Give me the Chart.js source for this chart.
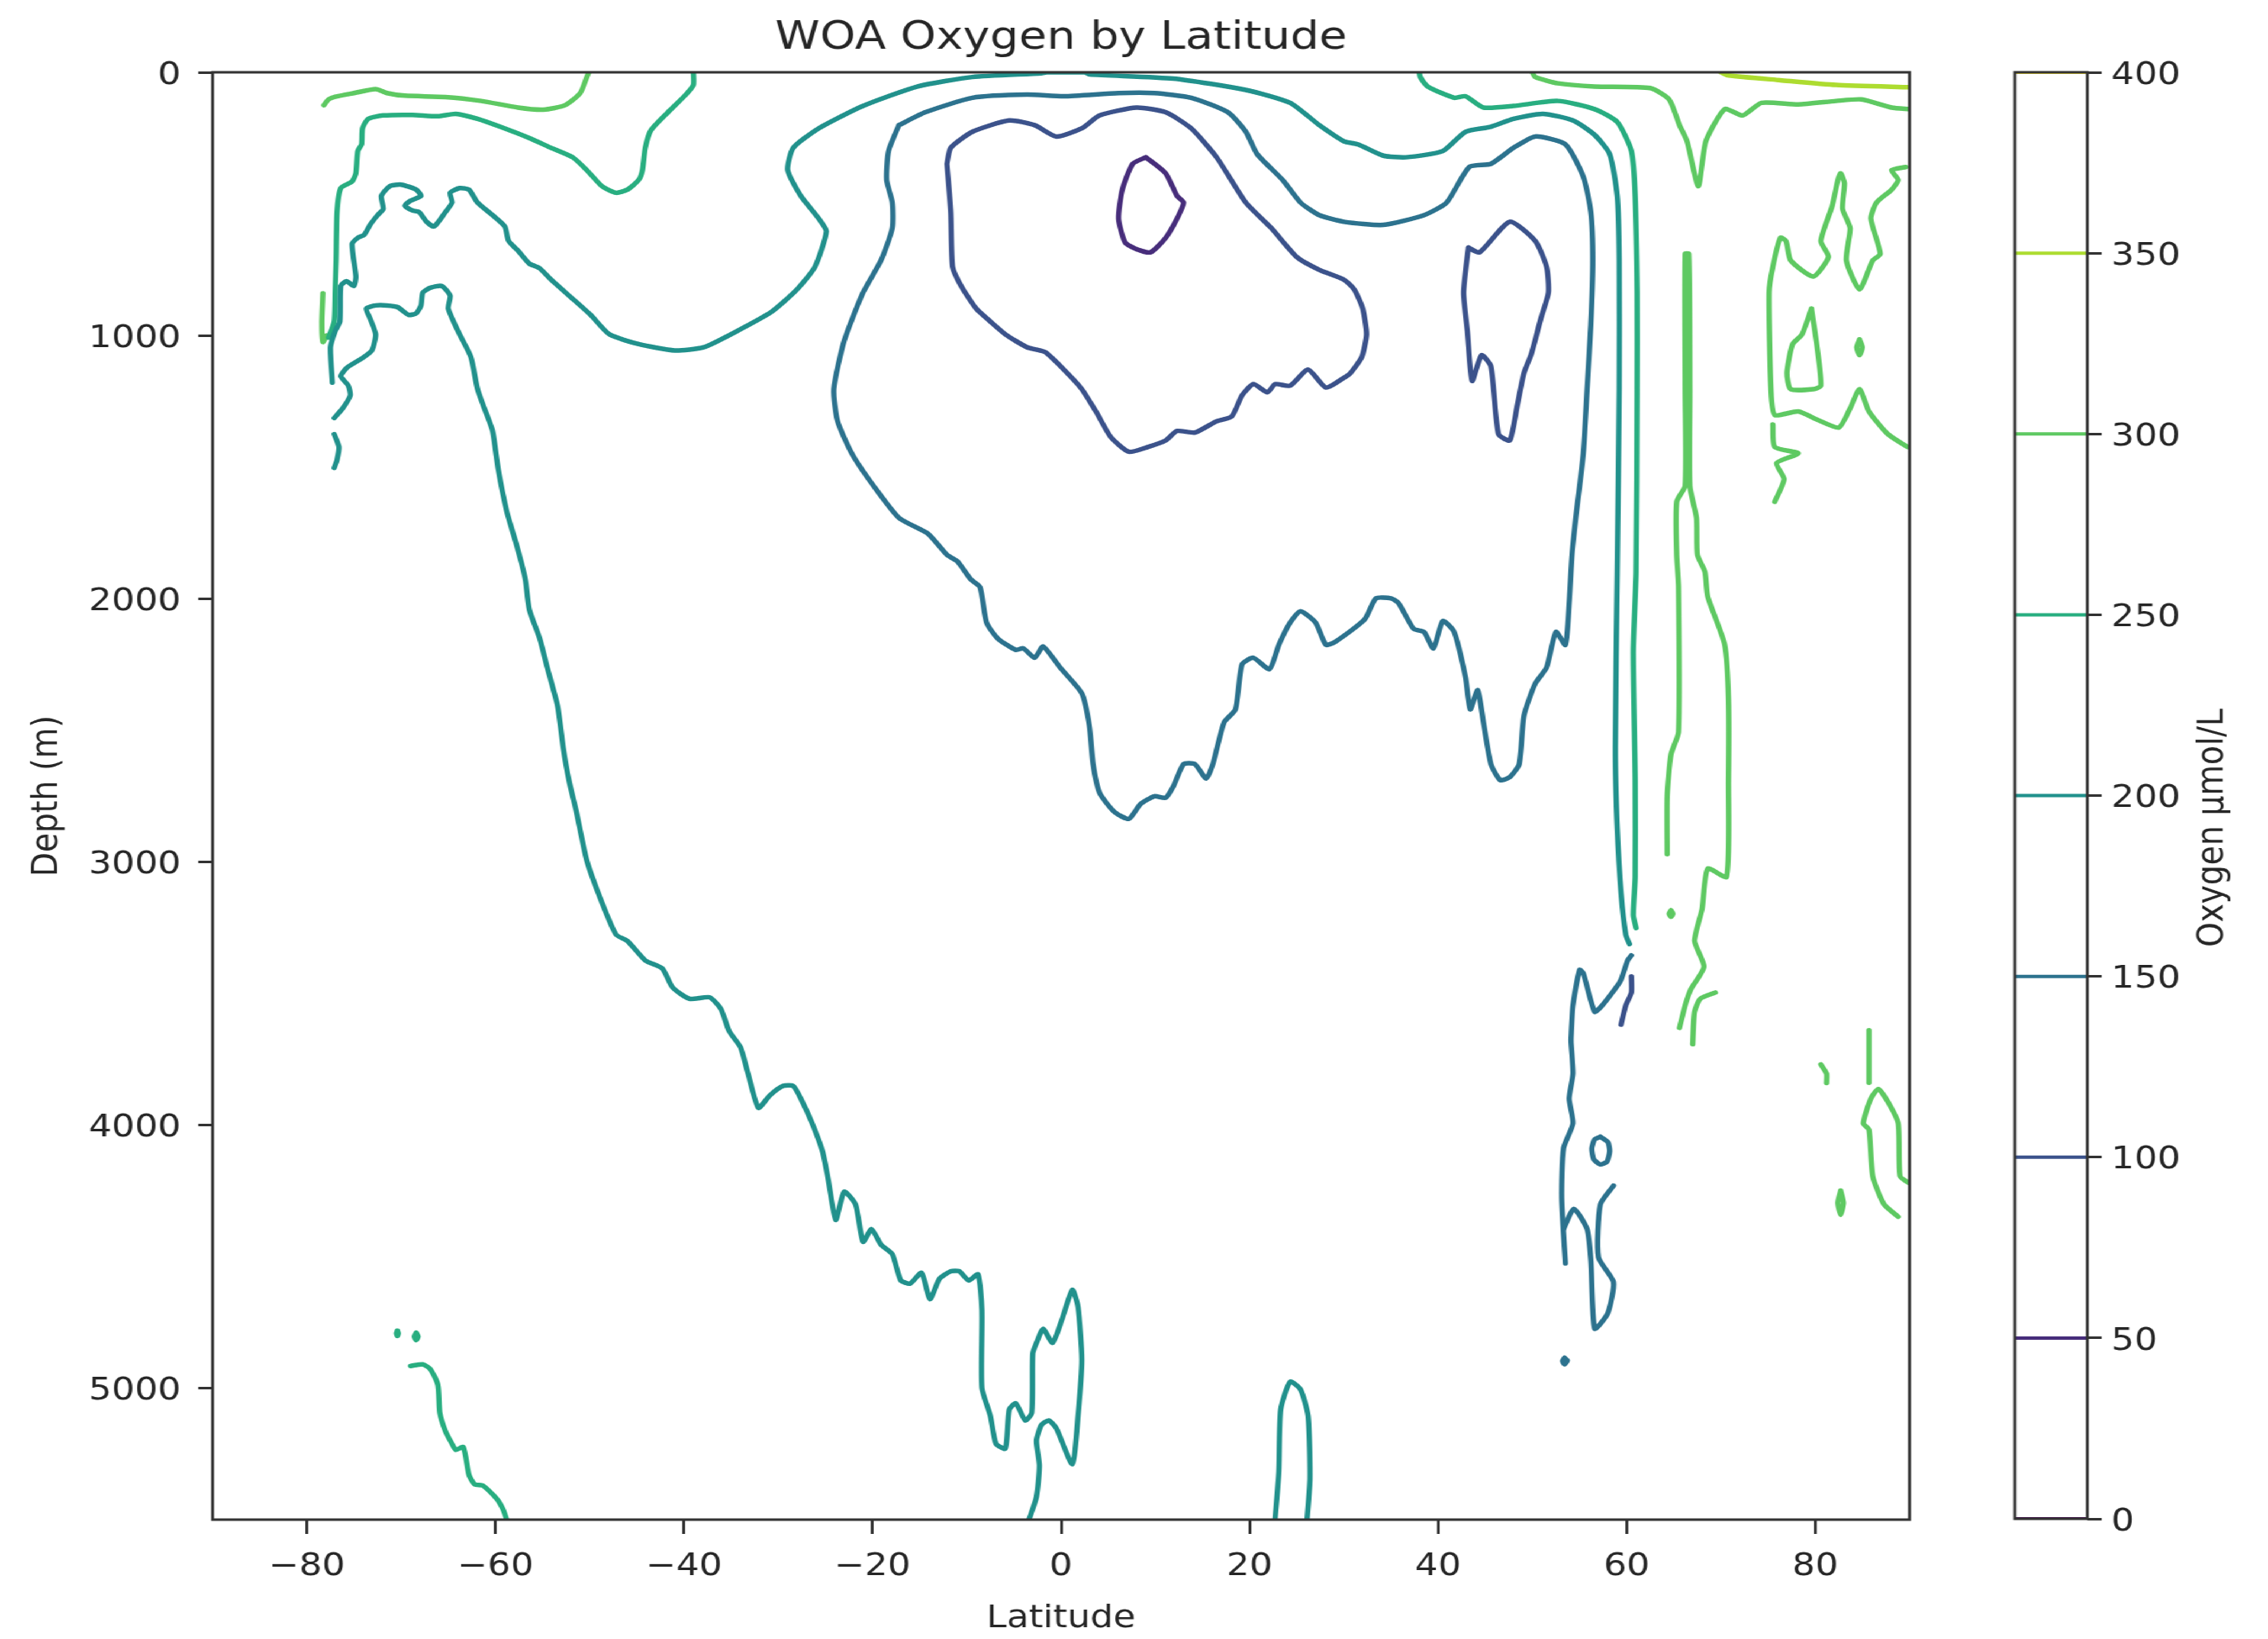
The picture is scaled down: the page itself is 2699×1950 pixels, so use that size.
<!DOCTYPE html>
<html>
<head>
<meta charset="utf-8">
<title>WOA Oxygen by Latitude</title>
<script src="https://cdn.jsdelivr.net/npm/chart.js@4.4.0/dist/chart.umd.min.js"></script>
<style>
	html, body { margin: 0; padding: 0; background: #fff; overflow: hidden; }
	#stage { position: absolute; left: 0; top: 0; width: 2347px; height: 1950px; transform: scaleX(1.15); transform-origin: 0 0; }
	#main { position: absolute; left: 0; top: 0; }
	#cbar { position: absolute; left: 2000px; top: 0; }
</style>
</head>
<body>
<div id="stage">
	<canvas id="main" width="2000" height="1950"></canvas>
	<canvas id="cbar" width="347" height="1950"></canvas>
</div>
<script>
// contour levels (umol/L) and the tick labels
const levels = [0, 50, 100, 150, 200, 250, 300, 350, 400];
const latTicks = [-80, -60, -40, -20, 0, 20, 40, 60, 80];
const depthTicks = [0, 1000, 2000, 3000, 4000, 5000];

// contour paths, [latitude, depth]
const o2_050 = [[9.0,323],[11.1,384],[12.3,470],[13.0,495],[12.3,556],[11.1,629],[9.5,684],[8.0,672],[6.8,647],[6.1,556],[6.5,446],[7.6,348],[9.0,323]];

const o2_100_core = [[-12.1,348],[-11.7,287],[-9.4,226],[-5.5,183],[-2.8,201],[-0.5,244],[2.2,213],[4.1,164],[8.0,134],[11.1,152],[13.8,213],[16.5,323],[19.6,495],[22.3,592],[25.0,702],[27.4,751],[30.0,788],[31.1,825],[32.0,898],[32.4,996],[31.9,1082],[30.7,1143],[30.0,1161],[28.1,1198],[26.2,1130],[24.3,1191],[22.7,1185],[21.9,1216],[20.4,1185],[19.2,1228],[18.1,1308],[16.5,1326],[14.2,1369],[12.3,1363],[11.1,1399],[9.2,1424],[7.2,1442],[5.3,1387],[3.7,1289],[2.2,1204],[0.3,1130],[-1.7,1063],[-3.6,1045],[-5.9,996],[-7.5,947],[-9.0,898],[-10.6,812],[-11.5,739],[-11.7,531],[-12.1,348]];
const o2_100_north = [[43.2,666],[44.4,684],[47.6,568],[50.3,641],[51.5,739],[51.7,837],[50.9,935],[49.9,1069],[49.1,1143],[48.4,1265],[47.6,1399],[46.4,1375],[45.6,1118],[44.6,1075],[43.6,1173],[43.1,984],[42.7,837],[43.2,666]];
const o2_100_deep = [[60.5,3436],[60.5,3497],[59.9,3546],[59.4,3619]];

const o2_150_main = [[-17.2,201],[-14.4,152],[-9.4,97],[-3.6,85],[0.3,91],[6.1,79],[9.9,79],[13.8,97],[17.7,152],[19.6,226],[20.8,311],[23.5,409],[25.4,495],[27.4,543],[30.0,568],[34.2,580],[38.5,543],[40.9,495],[43.3,360],[45.6,348],[48.0,287],[50.3,244],[53.5,274],[55.4,397],[56.2,531],[56.4,715],[56.2,959],[55.8,1204],[55.4,1448],[54.6,1693],[54.2,1834],[53.9,2017],[53.5,2176],[52.5,2127],[51.5,2262],[50.3,2323],[49.1,2445],[48.6,2629],[47.6,2678],[46.6,2690],[45.6,2629],[44.8,2470],[44.2,2348],[43.4,2421],[42.9,2299],[41.7,2127],[40.5,2085],[39.5,2189],[38.5,2127],[37.4,2115],[35.8,2017],[35.0,1999],[33.4,1999],[32.2,2079],[29.1,2164],[28.1,2176],[27.0,2091],[25.4,2048],[24.3,2091],[23.1,2176],[22.1,2268],[20.4,2225],[19.2,2250],[18.5,2421],[17.3,2470],[16.1,2629],[15.4,2684],[14.2,2629],[13.0,2629],[11.9,2714],[11.1,2757],[9.9,2751],[8.4,2782],[7.2,2837],[5.7,2812],[4.1,2739],[3.4,2629],[3.0,2482],[2.2,2360],[-0.1,2262],[-1.9,2182],[-2.8,2225],[-4.0,2189],[-4.8,2195],[-6.7,2152],[-7.9,2091],[-8.6,1956],[-9.6,1926],[-11.0,1858],[-12.1,1834],[-14.1,1754],[-17.2,1693],[-19.9,1571],[-22.2,1448],[-23.7,1326],[-24.1,1204],[-23.0,1020],[-21.0,837],[-19.1,715],[-17.9,592],[-17.9,495],[-18.5,409],[-18.3,299],[-17.2,201]];
const o2_150_deepA = [[60.5,3356],[60.1,3375],[59.4,3448],[59.0,3472],[57.4,3546],[56.6,3570],[55.4,3424],[55.0,3411],[54.3,3546],[54.1,3668],[54.1,3687],[54.3,3805],[53.9,3900],[54.3,3994],[53.3,4089],[53.1,4278],[53.5,4526]];
const o2_150_deepB = [[53.3,4396],[54.4,4319],[55.8,4396],[56.2,4514],[56.6,4774],[58.0,4715],[58.6,4597],[57.0,4503],[57.2,4302],[58.6,4231]];
const o2_150_ring = [[57.2,4045],[58.0,4065],[58.2,4100],[57.9,4140],[57.2,4150],[56.5,4130],[56.3,4090],[56.6,4055],[57.2,4045]];
const o2_150_dot = [[53.4,4885],[53.7,4895],[53.4,4910],[53.2,4897],[53.4,4885]];

const o2_200_upper = [[-77.3,1179],[-77.5,1045],[-77.0,984],[-76.5,947],[-76.4,812],[-75.8,794],[-75.0,812],[-74.8,776],[-75.2,653],[-74.6,629],[-73.9,617],[-73.3,580],[-72.5,543],[-71.9,519],[-72.1,470],[-71.2,433],[-70.0,427],[-68.4,446],[-67.9,470],[-69.0,488],[-69.6,507],[-68.8,525],[-68.1,531],[-67.3,568],[-66.5,586],[-65.3,531],[-64.6,495],[-64.8,458],[-63.8,440],[-62.8,446],[-61.9,495],[-60.3,543],[-59.0,586],[-58.6,641],[-57.6,678],[-56.4,727],[-55.3,745],[-54.1,788],[-51.8,861],[-49.9,922],[-47.9,996],[-44.8,1033],[-41.0,1057],[-37.9,1045],[-34.4,984],[-30.7,910],[-28.0,825],[-26.1,739],[-24.9,605],[-25.7,556],[-27.6,470],[-29.0,372],[-28.4,287],[-25.7,213],[-21.0,128],[-15.2,54],[-9.4,18],[-2.1,4],[-1.5,0],[2.5,0],[3.0,8],[11.9,24],[19.6,67],[24.3,116],[27.4,201],[30.0,262],[31.5,274],[34.2,317],[36.6,323],[40.5,299],[42.9,226],[45.6,207],[48.0,177],[51.1,158],[54.3,183],[56.6,238],[58.2,311],[59.0,470],[59.2,715],[59.2,1204],[59.0,1898],[58.8,2568],[59.0,2873],[59.4,3118],[59.9,3277],[60.3,3313]];
const o2_200_lower = [[-77.1,1314],[-76.2,1277],[-75.4,1228],[-75.6,1191],[-76.4,1155],[-75.8,1124],[-74.2,1088],[-73.1,1057],[-72.7,996],[-73.3,935],[-73.7,898],[-72.7,886],[-71.5,886],[-70.4,892],[-69.2,922],[-68.4,916],[-67.9,886],[-67.7,837],[-66.9,819],[-65.7,812],[-64.8,849],[-65.0,898],[-63.8,996],[-62.6,1082],[-61.9,1204],[-61.3,1265],[-60.3,1363],[-59.7,1509],[-58.8,1668],[-57.8,1791],[-57.2,1870],[-56.8,1932],[-56.4,2042],[-55.3,2152],[-54.5,2262],[-53.4,2409],[-52.8,2568],[-52.2,2690],[-51.4,2812],[-50.3,2996],[-48.7,3155],[-47.2,3277],[-46.0,3301],[-44.1,3375],[-42.3,3405],[-41.2,3478],[-39.4,3521],[-37.3,3515],[-36.1,3558],[-35.2,3644],[-34.0,3705],[-33.2,3805],[-32.1,3935],[-30.9,3888],[-29.5,3852],[-28.4,3852],[-27.6,3900],[-26.4,3994],[-25.3,4101],[-24.7,4207],[-23.9,4361],[-23.0,4254],[-21.8,4302],[-21.0,4444],[-20.1,4396],[-19.1,4455],[-17.9,4491],[-17.0,4591],[-16.0,4603],[-14.8,4562],[-13.9,4662],[-12.9,4585],[-11.7,4556],[-10.8,4556],[-9.8,4591],[-8.8,4568],[-8.4,4704],[-8.4,4999],[-7.5,5105],[-6.9,5212],[-5.9,5230],[-5.5,5082],[-4.8,5058],[-3.8,5123],[-3.1,5094],[-3.0,4869],[-2.6,4828],[-1.9,4775],[-0.9,4828],[0.1,4739],[1.2,4627],[1.8,4692],[2.2,4893],[1.8,5105],[1.2,5289],[-0.5,5153],[-1.3,5123],[-2.1,5141],[-2.6,5200],[-2.3,5295],[-2.6,5413],[-3.4,5500]];
const o2_200_piece = [[-77.1,1375],[-76.6,1424],[-76.8,1473],[-77.1,1503]];
const o2_200_tongue = [[22.7,5500],[23.1,5318],[23.3,5082],[24.3,4976],[25.4,5005],[26.2,5105],[26.4,5342],[26.1,5500]];

const o2_250_south = [[-39.0,0],[-39.0,48],[-39.8,85],[-41.7,152],[-43.5,220],[-44.1,287],[-44.4,372],[-44.8,409],[-46.0,446],[-47.2,458],[-48.7,433],[-50.3,372],[-51.8,323],[-54.1,287],[-56.4,250],[-59.5,207],[-61.9,177],[-64.2,158],[-66.1,167],[-68.8,162],[-71.9,164],[-73.5,177],[-74.1,213],[-74.2,274],[-74.6,299],[-74.8,384],[-75.2,415],[-76.4,440],[-76.8,531],[-76.9,715],[-77.0,837],[-77.1,947],[-77.7,1008]];
const o2_250_north = [[38.0,0],[38.1,18],[38.9,54],[41.7,97],[42.9,91],[44.8,134],[48.0,128],[52.7,109],[56.6,140],[59.0,189],[60.5,299],[60.9,470],[61.1,837],[61.1,1204],[61.0,1898],[60.7,2201],[60.9,2690],[60.9,3057],[60.7,3203],[61.0,3252]];
const o2_250_abyss = [[-69.0,4916],[-67.7,4910],[-66.9,4928],[-66.1,4987],[-65.9,5094],[-65.3,5164],[-64.6,5212],[-64.2,5235],[-63.4,5224],[-62.8,5330],[-62.2,5366],[-61.3,5371],[-59.9,5419],[-59.2,5460],[-58.8,5500]];
const o2_250_dotA = [[-70.4,4782],[-70.3,4792],[-70.4,4802],[-70.5,4792],[-70.4,4782]];
const o2_250_dotB = [[-68.4,4790],[-68.2,4804],[-68.4,4818],[-68.6,4804],[-68.4,4790]];

const o2_300_south = [[-78.2,125],[-77.7,103],[-77.0,93],[-75.0,79],[-72.7,64],[-71.5,79],[-69.6,89],[-65.3,94],[-61.5,109],[-57.6,134],[-54.9,142],[-52.6,125],[-51.0,79],[-50.3,18],[-50.1,0]];
const o2_300_sliver = [[-78.3,840],[-78.4,950],[-78.3,1025],[-77.9,1000]];
const o2_300_arctic = [[50.0,0],[50.3,18],[52.7,42],[56.6,54],[62.5,60],[64.5,103],[65.6,201],[66.4,262],[67.6,433],[68.4,262],[70.4,140],[72.3,164],[74.3,116],[78.2,122],[82.2,109],[84.9,103],[88.1,134],[90.0,140]];
const o2_300_column = [[64.3,2971],[64.3,2751],[64.7,2592],[65.5,2507],[65.5,1956],[65.3,1834],[65.3,1632],[66.2,1571],[66.2,1204],[66.2,690],[66.6,690],[66.7,1204],[66.7,1571],[67.4,1693],[67.5,1834],[68.3,1898],[68.6,1993],[70.4,2176],[70.8,2384],[70.8,2690],[70.6,3057],[68.6,3026],[68.0,3179],[67.2,3301],[68.2,3399],[66.8,3485],[66.2,3546],[65.6,3631]];
const o2_300_columnTail = [[69.4,3497],[67.8,3521],[67.2,3570],[67.0,3693]];
const o2_300_columnDot = [[64.7,3185],[64.9,3197],[64.7,3209],[64.5,3197],[64.7,3185]];
const o2_300_east = [[89.6,360],[88.1,372],[88.8,409],[88.1,446],[86.5,495],[85.9,556],[86.9,690],[86.1,715],[84.7,825],[83.3,715],[83.7,592],[82.9,519],[83.1,421],[82.7,384],[82.4,409],[81.8,507],[80.6,641],[81.4,702],[79.8,776],[77.4,715],[76.9,641],[76.3,629],[75.5,739],[75.1,837],[75.3,1204],[75.7,1302],[78.2,1289],[80.2,1320],[82.5,1350],[83.7,1277],[84.7,1204],[85.7,1289],[87.7,1375],[89.8,1424]];
const o2_300_eastFoot = [[75.5,1338],[75.7,1424],[78.2,1448],[75.9,1485],[76.7,1546],[75.7,1632]];
const o2_300_eastLoop = [[79.6,898],[80.2,1045],[80.6,1191],[79.8,1204],[77.4,1204],[77.0,1143],[77.6,1033],[78.6,996],[79.6,898]];
const o2_300_eastDot = [[84.7,1015],[85.0,1045],[84.7,1075],[84.4,1045],[84.7,1015]];
const o2_300_deepBar = [[85.7,3640],[85.7,3840]];
const o2_300_deepLoop = [[89.9,4220],[89.0,4195],[88.8,3994],[87.7,3912],[86.7,3864],[85.9,3900],[85.1,3994],[85.7,4018],[86.1,4195],[87.3,4302],[88.8,4349]];
const o2_300_hook = [[80.6,3770],[81.2,3805],[81.2,3841]];
const o2_300_deepDot = [[82.7,4250],[83.0,4296],[82.7,4342],[82.4,4296],[82.7,4250]];

const o2_350 = [[70.0,0],[70.8,12],[76.3,30],[82.2,48],[90.0,57]];

const contourLines = [
	[50, o2_050],
	[100, o2_100_core], [100, o2_100_north], [100, o2_100_deep],
	[150, o2_150_main], [150, o2_150_deepA], [150, o2_150_deepB], [150, o2_150_ring], [150, o2_150_dot],
	[200, o2_200_upper], [200, o2_200_lower], [200, o2_200_piece], [200, o2_200_tongue],
	[250, o2_250_south], [250, o2_250_north], [250, o2_250_abyss], [250, o2_250_dotA], [250, o2_250_dotB],
	[300, o2_300_south], [300, o2_300_sliver], [300, o2_300_arctic], [300, o2_300_column], [300, o2_300_columnTail],
	[300, o2_300_columnDot], [300, o2_300_east], [300, o2_300_eastFoot], [300, o2_300_eastLoop], [300, o2_300_eastDot],
	[300, o2_300_deepBar], [300, o2_300_deepLoop], [300, o2_300_hook], [300, o2_300_deepDot],
	[350, o2_350]
];

// viridis sampled at each level / 400
const viridis = ['#440154', '#472d7b', '#3b528b', '#2c728e', '#21918c', '#28ae80', '#5ec962', '#addc30', '#fde725'];
const colorOf = (lv) => viridis[levels.indexOf(lv)];
const ink = '#262626';
const tickFont = { family: 'DejaVu Sans', size: 37.5 };
const minus = (v) => (v < 0 ? '\u2212' + Math.abs(v) : String(v));

Chart.defaults.font.family = 'DejaVu Sans';
Chart.defaults.color = ink;

const frame = {
	id: 'frame',
	afterDatasetsDraw(chart) {
		const { ctx, chartArea: a } = chart;
		ctx.save();
		ctx.strokeStyle = '#333';
		ctx.lineWidth = 3;
		ctx.strokeRect(a.left, a.top, a.right - a.left, a.bottom - a.top);
		ctx.restore();
	}
};

const tickGrid = (len) => ({
	display: true,
	drawOnChartArea: false,
	drawTicks: true,
	tickLength: len,
	tickWidth: 3,
	tickColor: '#333'
});

new Chart(document.getElementById('main'), {
	type: 'scatter',
	data: {
		datasets: contourLines.map(([lv, path]) => ({
			data: path.map(([x, y]) => ({ x, y })),
			showLine: true,
			borderColor: colorOf(lv),
			borderWidth: 5.5,
			borderJoinStyle: 'round',
			borderCapStyle: 'round',
			pointRadius: 0,
			tension: 0.2,
			fill: false
		}))
	},
	plugins: [frame],
	options: {
		responsive: false,
		animation: false,
		layout: { padding: { left: 0, right: 24, top: 0, bottom: 0 } },
		plugins: {
			legend: { display: false },
			tooltip: { enabled: false },
			title: {
				display: true,
				fullSize: false,
				text: 'WOA Oxygen by Latitude',
				color: ink,
				font: { family: 'DejaVu Sans', size: 47, weight: 'normal' },
				padding: { top: 17.8, bottom: 11.8 }
			}
		},
		scales: {
			x: {
				type: 'linear',
				min: -90,
				max: 90,
				afterBuildTicks: (s) => { s.ticks = latTicks.map((value) => ({ value })); },
				afterFit: (s) => { s.height = 142; },
				ticks: { font: tickFont, color: ink, padding: 17, maxRotation: 0, autoSkip: false, callback: minus },
				grid: tickGrid(17),
				border: { display: false },
				title: { display: true, text: 'Latitude', color: ink, font: tickFont, padding: { top: 0, bottom: 1 } }
			},
			y: {
				type: 'linear',
				reverse: true,
				min: 0,
				max: 5500,
				afterBuildTicks: (s) => { s.ticks = depthTicks.map((value) => ({ value })); },
				afterFit: (s) => { s.width = 220; },
				ticks: { font: tickFont, color: ink, padding: 18, labelOffset: 4, autoSkip: false, callback: (v) => String(v) },
				grid: tickGrid(14.8),
				border: { display: false },
				title: { display: true, text: 'Depth (m)', color: ink, font: tickFont, padding: { top: 27, bottom: 0 } }
			}
		}
	}
});

const cbarLabel = {
	id: 'cbarLabel',
	afterDraw(chart) {
		const ctx = chart.ctx;
		ctx.save();
		ctx.translate(290, 985);
		ctx.rotate(-Math.PI / 2);
		ctx.font = '37.5px "DejaVu Sans"';
		ctx.fillStyle = ink;
		ctx.textAlign = 'center';
		ctx.textBaseline = 'middle';
		ctx.fillText('Oxygen \u03bcmol/L', 0, 0);
		ctx.restore();
	}
};

new Chart(document.getElementById('cbar'), {
	type: 'scatter',
	data: {
		datasets: levels.map((lv) => ({
			data: [{ x: 0, y: lv }, { x: 1, y: lv }],
			showLine: true,
			borderColor: colorOf(lv),
			borderWidth: 4,
			pointRadius: 0
		}))
	},
	plugins: [frame, cbarLabel],
	options: {
		responsive: false,
		animation: false,
		layout: { padding: { left: 85, right: 0, top: 86, bottom: 143 } },
		plugins: { legend: { display: false }, tooltip: { enabled: false } },
		scales: {
			x: { type: 'linear', min: 0, max: 1, display: false },
			y: {
				type: 'linear',
				position: 'right',
				min: 0,
				max: 400,
				afterBuildTicks: (s) => { s.ticks = levels.map((value) => ({ value })); },
				afterFit: (s) => { s.width = 187; },
				ticks: { font: tickFont, color: ink, padding: 10, labelOffset: 4, autoSkip: false, callback: (v) => String(v) },
				grid: tickGrid(14.8),
				border: { display: false }
			}
		}
	}
});
</script>
</body>
</html>
